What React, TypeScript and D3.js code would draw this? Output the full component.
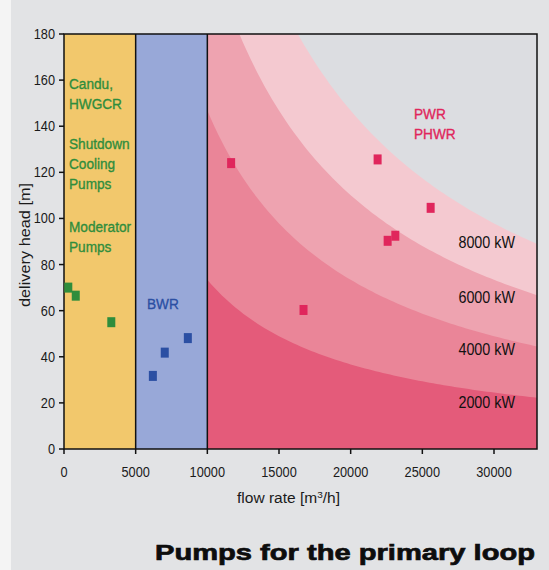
import React from "react";
import * as d3 from "d3";

// categories / bands
const bands = [
  { name: "Candu", from: 0, to: 5000, color: "#f2c86c" },
  { name: "BWR", from: 5000, to: 10000, color: "#98a8d8" },
];

// iso-power lines [kW], drawn from the lightest to the darkest
const powerLevels = [8000, 6000, 4000, 2000];
const powerColors = ["#f4c9d0", "#eea3b0", "#ea8598", "#e45b7a"];
const powerLabelY = [248, 303, 355, 408];

// pumps: flow rate [m3/h], delivery head [m]
const canduPumps = [
  { q: 300, h: 70 },
  { q: 820, h: 66.5 },
  { q: 3300, h: 55 },
];
const bwrPumps = [
  { q: 6200, h: 31.7 },
  { q: 7030, h: 41.8 },
  { q: 8640, h: 48.1 },
];
const pwrPumps = [
  { q: 11660, h: 124 },
  { q: 16710, h: 60.3 },
  { q: 21880, h: 125.6 },
  { q: 22580, h: 90.3 },
  { q: 23115, h: 92.5 },
  { q: 25580, h: 104.6 },
];

const xTicks = [0, 5000, 10000, 15000, 20000, 25000, 30000];
const yTicks = [0, 20, 40, 60, 80, 100, 120, 140, 160, 180];

const canduLines = ["Candu,", "HWGCR", "Shutdown", "Cooling", "Pumps", "Moderator", "Pumps"];
const canduLineY = [89, 109, 149, 169, 189, 232, 252];

const width = 549;
const height = 570;
const sans = "'Liberation Sans', Arial, Helvetica, sans-serif";

// condensed text: regular sans squeezed horizontally
function T(props: {
  x: number;
  y: number;
  size: number;
  fill?: string;
  anchor?: string;
  bold?: boolean;
  children: React.ReactNode;
}) {
  const fill = props.fill || "#1a1a1a";
  return (
    <text
      transform={`translate(${props.x},${props.y}) scale(0.88,1)`}
      fontSize={props.size}
      fill={fill}
      stroke={props.bold ? fill : "none"}
      strokeWidth={props.bold ? 0.35 : 0}
      textAnchor={props.anchor || "start"}
    >
      {props.children}
    </text>
  );
}

export default function App() {
  const left = 64, right = 537, top = 34, bottom = 449;
  const x = d3.scaleLinear().domain([0, 33000]).range([left, right]);
  const y = d3.scaleLinear().domain([0, 180]).range([bottom, top]);

  // head for a given power: H = P * 3600 / (rho g Q)
  const head = (p: number, q: number) => (p * 3600) / (9.81 * q);
  const qs = d3.range(10000, 33001, 250);

  const area = (p: number) =>
    d3
      .area<number>()
      .x((q) => x(q))
      .y0(y(0))
      .y1((q) => y(Math.min(head(p, q), 200)))(qs) || "";

  const marker = (color: string) => (d: { q: number; h: number }, i: number) => (
    <rect key={i} x={x(d.q) - 4} y={y(d.h) - 5} width={8} height={10} fill={color} />
  );

  return (
    <svg
      width={width}
      height={height}
      style={{ position: "absolute", left: 0, top: 0, fontFamily: sans }}
    >
      <defs>
        <clipPath id="plot">
          <rect x={left} y={top} width={right - left} height={bottom - top} />
        </clipPath>
      </defs>
      <rect width={width} height={height} fill="#e2e3e5" />
      <rect width={11} height={height} fill="#f4f4f4" />

      <rect x={left} y={top} width={right - left} height={bottom - top} fill="#dcdde1" />
      <g clipPath="url(#plot)">
        {powerLevels.map((p, i) => (
          <path key={p} d={area(p)} fill={powerColors[i]} />
        ))}
      </g>
      {bands.map((b) => (
        <rect
          key={b.name}
          x={x(b.from)}
          y={top}
          width={x(b.to) - x(b.from)}
          height={bottom - top}
          fill={b.color}
        />
      ))}
      <line x1={x(5000)} x2={x(5000)} y1={top} y2={bottom} stroke="#111" strokeWidth={1.5} />
      <line x1={x(10000)} x2={x(10000)} y1={top} y2={bottom} stroke="#111" strokeWidth={1.5} />
      <rect
        x={left}
        y={top}
        width={right - left}
        height={bottom - top}
        fill="none"
        stroke="#111"
        strokeWidth={1.5}
      />

      {canduPumps.map(marker("#2f8d3c"))}
      {bwrPumps.map(marker("#2b4fa3"))}
      {pwrPumps.map(marker("#e0265c"))}

      {/* y axis */}
      {yTicks.map((t) => (
        <g key={t}>
          <line x1={left - 5} x2={left} y1={y(t)} y2={y(t)} stroke="#111" strokeWidth={1.5} />
          <T x={left - 9} y={y(t) + 5} size={14.5} anchor="end">
            {t}
          </T>
        </g>
      ))}
      {/* x axis */}
      {xTicks.map((t) => (
        <g key={t}>
          <line x1={x(t)} x2={x(t)} y1={bottom} y2={bottom + 5} stroke="#111" strokeWidth={1.5} />
          <T x={x(t)} y={477} size={14.5} anchor="middle">
            {t}
          </T>
        </g>
      ))}
      <text
        x={237}
        y={503}
        fontSize={14}
        fill="#1a1a1a"
        textLength={103}
        lengthAdjust="spacingAndGlyphs"
      >
        flow rate [m<tspan dy={-5} fontSize={9}>3</tspan>
        <tspan dy={5}>/h]</tspan>
      </text>
      <text
        transform="translate(30,307) rotate(-90)"
        fontSize={15.5}
        fill="#1a1a1a"
        textLength={124}
        lengthAdjust="spacingAndGlyphs"
      >
        delivery head [m]
      </text>

      {/* region labels */}
      {canduLines.map((s, i) => (
        <T key={i} x={69} y={canduLineY[i]} size={15.5} fill="#2f8d3c" bold>
          {s}
        </T>
      ))}
      <T x={147} y={309} size={15.5} fill="#2b4fa3" bold>BWR</T>
      <T x={414} y={119} size={15.5} fill="#e0265c" bold>PWR</T>
      <T x={414} y={139} size={15.5} fill="#e0265c" bold>PHWR</T>
      {powerLevels.map((p, i) => (
        <T key={p} x={515} y={powerLabelY[i]} size={16.3} fill="#111" anchor="end">
          {p} kW
        </T>
      ))}

      <text
        x={155}
        y={560}
        fontWeight={900}
        fontSize={22.5}
        fill="#0d0d0d"
        stroke="#0d0d0d"
        strokeWidth={0.7}
        textLength={380}
        lengthAdjust="spacingAndGlyphs"
      >
        Pumps for the primary loop
      </text>
    </svg>
  );
}
